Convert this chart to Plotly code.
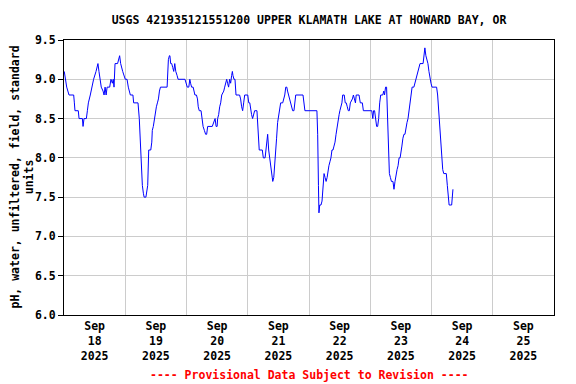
import pandas as pd
import plotly.graph_objects as go

# hours since 2025-09-18 00:00 (local) and pH values
hours = [0.1, 0.67, 1.06, 1.97, 3.8, 4.06, 4.3, 5.6, 5.9, 7.2, 7.46, 7.85, 8.76, 9.16, 9.55, 10.3,
         10.85, 11.6, 12.55, 13.3, 13.7, 14.25, 14.6, 15.3, 15.7, 16.1, 16.5, 16.9, 17.9, 18.4,
         18.95, 19.3, 19.6, 20.0, 21.0, 21.8, 22.2, 23.0, 24.0, 24.7, 25.2, 26.0, 27.0, 27.3,
         29.0, 29.5, 29.9, 30.3, 30.7, 31.1, 31.4, 32.1, 32.4, 32.8, 33.2, 34.0, 34.4, 34.6,
         35.0, 35.4, 35.8, 36.2, 36.6, 37.0, 37.4, 37.8, 40.4, 40.6, 40.9, 41.3, 41.5, 41.8,
         42.2, 42.6, 43.0, 43.4, 43.8, 44.3, 44.7, 47.4, 47.9, 48.3, 48.9, 49.3, 49.6, 50.0,
         50.6, 50.9, 51.3, 51.9, 52.3, 52.6, 53.0, 53.7, 54.1, 54.5, 55.0, 55.5, 55.9, 56.3,
         58.1, 58.7, 59.2, 59.6, 60.0, 60.2, 60.6, 61.0, 61.4, 61.8, 62.6, 62.96, 63.4, 63.75,
         64.1, 64.5, 64.9, 65.3, 65.7, 65.97, 66.2, 66.6, 67.0, 67.3, 67.4, 68.8, 69.2, 69.6,
         70.0, 70.4, 70.8, 72.0, 72.4, 72.8, 73.1, 73.5, 73.9, 74.3, 74.7, 75.6, 75.9, 76.2,
         76.5, 77.7, 78.1, 78.8, 79.2, 79.4, 79.8, 80.2, 80.6, 81.0, 81.4, 81.8, 82.2, 82.6,
         82.9, 83.3, 83.7, 84.1, 84.5, 84.9, 85.7, 86.1, 86.5, 86.9, 87.3, 87.6, 88.0, 88.4,
         88.8, 89.2, 89.6, 90.1, 90.5, 90.8, 93.65, 94.0, 94.4, 99.1, 99.4, 99.7, 99.9, 100.2,
         100.7, 101.1, 101.5, 101.9, 102.3, 102.7, 103.1, 103.5, 103.8, 104.2, 104.6, 105.0,
         105.4, 105.8, 106.2, 106.6, 107.0, 107.4, 107.8, 108.1, 108.5, 108.9, 109.2, 109.8,
         110.2, 110.6, 111.0, 111.4, 111.8, 112.2, 113.0, 113.4, 113.8, 114.2, 114.5, 115.6,
         116.1, 116.9, 117.3, 120.6, 121.0, 121.3, 121.7, 122.1, 122.5, 122.9, 123.3, 123.7,
         124.1, 124.9, 125.3, 125.6, 126.0, 126.4, 126.7, 127.1, 127.5, 127.9, 128.3, 128.9,
         129.3, 129.7, 130.1, 130.5, 130.9, 131.3, 131.7, 132.0, 132.4, 132.8, 133.2, 133.6,
         134.0, 134.4, 134.8, 135.2, 135.6, 136.0, 136.4, 137.1, 137.5, 137.9, 138.3, 138.7,
         139.1, 139.5, 140.7, 141.1, 141.4, 141.8, 142.2, 142.6, 143.0, 143.4, 143.8, 144.2,
         146.0, 146.4, 146.8, 147.2, 147.6, 148.0, 148.4, 148.8, 149.8, 150.2, 150.6, 150.9,
         151.9, 152.2, 152.4]
ph = [9.1, 9.0, 8.9, 8.8, 8.8, 8.7, 8.6, 8.6, 8.5, 8.5, 8.4, 8.5, 8.5, 8.6, 8.7, 8.8,
      8.9, 9.0, 9.1, 9.2, 9.1, 9.0, 8.9, 8.85, 8.8, 8.9, 8.8, 8.9, 8.9, 9.0,
      8.95, 9.0, 8.9, 9.2, 9.2, 9.3, 9.2, 9.1, 9.0, 9.0, 8.9, 8.8, 8.8, 8.7,
      8.7, 8.5, 8.2, 7.9, 7.65, 7.55, 7.5, 7.5, 7.6, 7.65, 8.1, 8.1, 8.2, 8.35,
      8.4, 8.5, 8.55, 8.65, 8.7, 8.75, 8.85, 8.9, 8.9, 9.0, 9.25, 9.3, 9.3, 9.2,
      9.2, 9.15, 9.1, 9.2, 9.1, 9.05, 9.0, 9.0, 8.95, 8.9, 8.9, 9.0, 8.95, 8.9,
      8.9, 8.85, 8.8, 8.8, 8.75, 8.65, 8.6, 8.6, 8.5, 8.4, 8.35, 8.3, 8.3, 8.4,
      8.4, 8.45, 8.5, 8.4, 8.4, 8.5, 8.55, 8.65, 8.7, 8.8, 8.85, 8.9, 8.95, 9.0,
      8.95, 8.9, 9.0, 8.95, 9.05, 9.1, 9.05, 9.0, 9.0, 8.9, 8.8, 8.8, 8.75, 8.65,
      8.6, 8.7, 8.8, 8.8, 8.7, 8.7, 8.6, 8.55, 8.5, 8.55, 8.6, 8.6, 8.45, 8.2,
      8.1, 8.1, 8.0, 8.0, 8.1, 8.2, 8.3, 8.1, 8.0, 7.95, 7.85, 7.7, 7.75, 7.9,
      8.0, 8.25, 8.45, 8.55, 8.6, 8.7, 8.7, 8.75, 8.8, 8.9, 8.9, 8.85, 8.8, 8.75,
      8.7, 8.65, 8.6, 8.6, 8.7, 8.8, 8.8, 8.7, 8.6, 8.6, 8.3, 7.65, 7.3, 7.4,
      7.4, 7.45, 7.65, 7.8, 7.75, 7.7, 7.75, 7.85, 7.9, 7.95, 8.0, 8.1,
      8.1, 8.15, 8.2, 8.3, 8.4, 8.5, 8.55, 8.6, 8.65, 8.7, 8.8, 8.8,
      8.7, 8.7, 8.65, 8.6, 8.6, 8.7, 8.75, 8.8, 8.75, 8.7, 8.8, 8.8,
      8.7, 8.7, 8.6, 8.6, 8.5, 8.6, 8.6, 8.5, 8.4, 8.4, 8.5, 8.7,
      8.8, 8.8, 8.85, 8.8, 8.9, 8.9, 8.6, 8.05, 7.8, 7.75, 7.7, 7.7,
      7.6, 7.7, 7.8, 7.85, 7.9, 8.0, 8.0, 8.1, 8.15, 8.25, 8.3, 8.3,
      8.4, 8.45, 8.5, 8.6, 8.65, 8.75, 8.9, 8.9, 8.95, 9.0, 9.05, 9.1,
      9.15, 9.2, 9.2, 9.3, 9.4, 9.3, 9.25, 9.2, 9.1, 9.0, 8.95, 8.9,
      8.9, 8.8, 8.6, 8.4, 8.15, 8.0, 7.85, 7.8, 7.8, 7.65, 7.45, 7.4,
      7.4, 7.5, 7.6]

start = pd.Timestamp("2025-09-18 00:00")
times = start + pd.to_timedelta(hours, unit="h")

title_text = "USGS 421935121551200 UPPER KLAMATH LAKE AT HOWARD BAY, OR"
ytitle = "pH, water, unfiltered, field, standard<br>units"
note = "---- Provisional Data Subject to Revision ----"
x_range = ["2025-09-18", "2025-09-26"]
y_ticks = [6.0, 6.5, 7.0, 7.5, 8.0, 8.5, 9.0, 9.5]

FONT = dict(family="DejaVu Sans Mono", size=11.5, color="black", weight="bold")

fig = go.Figure()
fig.add_trace(go.Scatter(x=times, y=ph, mode="lines",
                         line=dict(color="#0000ff", width=1), showlegend=False))

# the page body adds an ~8px offset; margins compensate for it
fig.update_layout(
    width=576, height=384,
    margin=dict(l=56, r=30, t=32, b=77, autoexpand=False),
    paper_bgcolor="white", plot_bgcolor="white",
    font=FONT,
    title=dict(text=title_text, x=0.5, xref="paper", xanchor="center",
               y=1 - 12 / 384, yref="container", yanchor="middle", font=FONT),
    xaxis=dict(type="date", range=x_range, tick0="2025-09-18", dtick=86400000,
               tickformat="%b<br>%d<br>%Y", ticklabelmode="period",
               showgrid=True, gridcolor="#cccccc", gridwidth=1,
               showline=True, linecolor="black", linewidth=1, mirror=True,
               ticks="", tickfont=FONT, zeroline=False, automargin=False),
    yaxis=dict(range=[6.0, 9.5], tickvals=y_ticks, tickformat=".1f",
               showgrid=True, gridcolor="#cccccc", gridwidth=1,
               showline=True, linecolor="black", linewidth=1, mirror=True,
               ticks="outside", ticklen=5, tickcolor="black", tickfont=FONT,
               zeroline=False, automargin=False),
)

# y-axis title as a rotated annotation for precise placement
fig.add_annotation(text=ytitle, x=-42 / 490, xref="paper", y=0.5, yref="paper",
                   xanchor="center", yanchor="middle", showarrow=False,
                   textangle=-90, font=FONT)

fig.add_annotation(text=note, x=0.5, xref="paper", y=-60 / 275, yref="paper",
                   xanchor="center", yanchor="middle", showarrow=False,
                   font=dict(family="DejaVu Sans Mono", size=11.5, color="red", weight="bold"))

fig.write_html("out.html")
